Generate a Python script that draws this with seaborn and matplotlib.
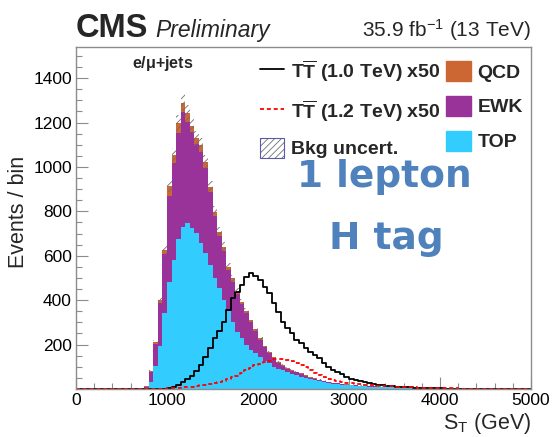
import numpy as np
import pandas as pd
import matplotlib
matplotlib.use("Agg")
import matplotlib.pyplot as plt
import seaborn as sns
from matplotlib.lines import Line2D
from matplotlib.patches import Patch
from matplotlib.ticker import MultipleLocator, FixedLocator

# ---- binning -------------------------------------------------------------
BIN_WIDTH = 50          # GeV
ST_MAX = 5000           # GeV
BKG_FIRST_BIN = 750     # lower edge of first background bin listed below
SIG_FIRST_BIN = 950     # lower edge of first signal bin listed below

# ---- background yields (events / bin), bins from 750 GeV upward ------------
top_events = [
    4, 33, 104, 194, 341, 483, 581, 674, 731, 746,
    723, 701, 656, 611, 560, 500, 455, 400, 350, 300,
    258, 228, 198, 176, 161, 143, 128, 115, 101, 92,
    84, 76, 68, 62, 56, 50, 44, 39, 35, 31,
    27, 24, 22, 20, 18, 16, 14.5, 13, 12, 11,
    10, 9, 8.3, 7.5, 6.8, 6, 5.5, 5, 4.5, 4,
    3.6, 3.2, 2.9, 2.6, 2.3, 2.0, 1.8, 1.6, 1.5, 1.3,
    1.2, 1.1, 1.0, 0.9, 0.8, 0.7, 0.6, 0.6, 0.5, 0.5,
    0.4, 0.4, 0.3, 0.3, 0.3,
]
ewk_events = [
    6, 44, 99, 192, 265, 386, 435, 477, 518, 455,
    436, 403, 413, 383, 326, 278, 235, 221, 186, 184,
    169, 153, 144, 124, 99, 77, 59, 46, 38, 25,
    19, 15, 14, 13, 11, 9, 7, 7, 5, 5,
    4, 3, 3, 2, 2, 2, 1.5, 2, 1.5, 1.5,
    1.5, 1.5, 1.4, 1.2, 0.9, 1.1, 0.9, 0.8, 0.8, 0.9,
    0.9, 0.8, 0.7, 0.6, 0.6, 0.6, 0.5, 0.5, 0.4, 0.4,
    0.3, 0.3, 0.3, 0.3, 0.2, 0.2, 0.2, 0.2, 0.2, 0.1,
    0.1, 0.1, 0.1, 0.1, 0.1,
]
qcd_events = [
    2, 6, 10, 15, 20, 45, 38, 45, 40, 40,
    25, 25, 30, 30, 25, 20, 18, 20, 15, 14,
    13, 12, 11, 10, 10, 8, 8, 7, 6, 6,
    5, 4, 4, 3, 3, 3, 3, 2, 2, 2,
    2, 2, 1, 1, 1, 1, 1, 0.5, 0.5, 0.5,
    0.5, 0.5, 0.3, 0.3, 0.3, 0.2, 0.2, 0.2, 0.2, 0.1,
    0, 0, 0, 0, 0, 0, 0, 0, 0, 0,
    0, 0, 0, 0, 0, 0, 0, 0, 0, 0,
    0, 0, 0, 0, 0,
]
bkg_rel_unc = 0.03

# ---- signal yields (x50), bins from 950 GeV upward -------------------------
tt_1p0_events = [
    1, 3, 10, 20, 30, 45, 60, 80, 110, 146,
    185, 230, 260, 300, 356, 410, 438, 468, 506, 524,
    509, 491, 461, 431, 386, 348, 303, 273, 251, 221,
    206, 183, 168, 153, 138, 116, 98, 86, 78, 66,
    56, 47, 41, 36, 31, 27, 23, 20, 17, 15,
    13, 11, 10, 9, 7.5, 6.5, 5.5, 4.5, 4, 3.5,
    3, 2.5, 2, 1.6, 1.3, 1, 0.8, 0.6, 0.5, 0.4,
    0.3, 0.3, 0.2, 0.2, 0.2, 0.1, 0.1, 0.1, 0.1, 0.1,
    0.1,
]
tt_1p2_events = [
    1, 3, 4, 5, 7, 9, 11, 13, 16, 19,
    24, 28, 32, 37, 44, 52, 60, 71, 84, 95,
    106, 114, 122, 128, 133, 135, 134, 132, 127, 118,
    108, 97, 86, 74, 64, 55, 47, 41, 36, 32,
    29, 26, 24, 22, 20, 18, 17, 15.5, 14.5, 13.5,
    12, 11, 10, 9, 8, 7, 6.5, 6, 5, 4.5,
    4, 3.5, 3, 2.6, 2.3, 2, 1.7, 1.5, 1.3, 1.1,
    1, 0.9, 0.8, 0.7, 0.6, 0.5, 0.5, 0.4, 0.4, 0.3,
    0.3,
]

processes = ["QCD", "EWK", "TOP"]
process_colors = {"QCD": "#CC6633", "EWK": "#993399", "TOP": "#33CCFF"}
x_ticks = [0, 1000, 2000, 3000, 4000, 5000]
y_ticks = [200, 400, 600, 800, 1000, 1200, 1400]

# ---- style ---------------------------------------------------------------
sns.set_theme(style="ticks")
plt.rcParams["font.family"] = ["Liberation Sans", "DejaVu Sans"]
plt.rcParams["mathtext.fontset"] = "custom"
plt.rcParams["mathtext.rm"] = "Liberation Sans"
plt.rcParams["mathtext.it"] = "Liberation Sans:italic"
plt.rcParams["mathtext.bf"] = "Liberation Sans:bold"
plt.rcParams["hatch.linewidth"] = 0.6
plt.rcParams["hatch.color"] = "#6e6e6e"

edges = np.arange(0, ST_MAX + BIN_WIDTH, BIN_WIDTH)
hist_bins = dict(binwidth=BIN_WIDTH, binrange=(0, ST_MAX))


def bin_centers(first_edge, n):
    return first_edge + BIN_WIDTH / 2 + BIN_WIDTH * np.arange(n)


bkg = pd.concat(
    [
        pd.DataFrame({"st": bin_centers(BKG_FIRST_BIN, len(vals)),
                      "events": vals, "process": name})
        for name, vals in (("TOP", top_events), ("EWK", ewk_events), ("QCD", qcd_events))
    ],
    ignore_index=True,
)

fig = plt.figure(figsize=(5.52, 4.37), dpi=100)
ax = fig.add_axes([76 / 552, 1 - 389 / 437, (531 - 76) / 552, (389 - 47) / 437])

# stacked backgrounds
sns.histplot(data=bkg, x="st", weights="events", hue="process", hue_order=processes,
             palette=process_colors, multiple="stack", element="step",
             fill=True, alpha=1, linewidth=0, legend=False, ax=ax, **hist_bins)

# background uncertainty band on the stack total
total = bkg.groupby("st")["events"].sum()
tot_hist, _ = np.histogram(total.index.values, bins=edges, weights=total.values)
lo = tot_hist * (1 - bkg_rel_unc)
hi = tot_hist * (1 + bkg_rel_unc)
ax.fill_between(edges, np.append(lo, lo[-1]), np.append(hi, hi[-1]), step="post",
                facecolor="none", edgecolor="#6e6e6e", hatch="/////", linewidth=0, zorder=3)

# signals
sns.histplot(x=bin_centers(SIG_FIRST_BIN, len(tt_1p0_events)), weights=tt_1p0_events,
             element="step", fill=False, color="black", linewidth=1.3, ax=ax, **hist_bins)
sns.histplot(x=bin_centers(SIG_FIRST_BIN, len(tt_1p2_events)), weights=tt_1p2_events,
             element="step", fill=False, color="#ff0000", linewidth=1.3,
             linestyle=(0, (2.2, 1.6)), ax=ax, **hist_bins)

# axes
ax.set_xlim(0, ST_MAX)
ax.set_ylim(0, 1540)
ax.xaxis.set_major_locator(FixedLocator(x_ticks))
ax.xaxis.set_minor_locator(MultipleLocator(200))
ax.yaxis.set_major_locator(FixedLocator(y_ticks))
ax.yaxis.set_minor_locator(MultipleLocator(50))
ax.tick_params(which="both", direction="in", color="#8c8c8c", labelcolor="black",
               top=False, right=False, labelsize=12.5, width=0.8)
ax.tick_params(which="major", length=8.5, pad=3)
ax.tick_params(which="minor", length=4.3)
for sp in ax.spines.values():
    sp.set_color("#8c8c8c")
    sp.set_linewidth(1.0)
    sp.set_visible(True)

ax.set_xlabel(r"S$_\mathrm{T}$ (GeV)", fontsize=15.5, ha="right")
ax.xaxis.set_label_coords(1.0, -0.064)
ax.set_ylabel("Events / bin", fontsize=15.5)
ax.yaxis.set_label_coords(-0.103, 0.518)

# legend
unc_handle = (
    Patch(facecolor="white", edgecolor="#6e6e6e", hatch="/////", lw=0),
    Patch(facecolor="none", edgecolor="#5a5aa8", lw=0.8),
)
handles = [
    Line2D([], [], color="black", lw=1.3),
    Line2D([], [], color="#ff0000", lw=1.3, ls=(0, (2.2, 1.6))),
    unc_handle,
    Patch(facecolor=process_colors["QCD"], edgecolor=process_colors["QCD"]),
    Patch(facecolor=process_colors["EWK"], edgecolor=process_colors["EWK"]),
    Patch(facecolor=process_colors["TOP"], edgecolor=process_colors["TOP"]),
]
labels = [
    r"T$\mathbf{\overline{T}}$ (1.0 TeV) x50",
    r"T$\mathbf{\overline{T}}$ (1.2 TeV) x50",
    "Bkg uncert.",
    "QCD", "EWK", "TOP",
]
ax.legend(handles, labels, ncol=2, loc="upper left", bbox_to_anchor=(0.404, 0.968),
          frameon=False, borderaxespad=0, borderpad=0, handlelength=1.25,
          handleheight=1.2, handletextpad=0.35, labelspacing=0.73, columnspacing=0.3,
          prop={"weight": "bold", "size": 14})

# annotations
ax.text(0.123, 0.953, r"e/$\mathbf{\mu}$+jets", transform=ax.transAxes, fontsize=11.5,
        fontweight="bold", va="center", ha="left")
ax.text(0.677, 0.591, "1 lepton", transform=ax.transAxes, fontsize=27, fontweight="bold",
        color="#4F81BD", ha="center", va="baseline", family=["DejaVu Sans"])
ax.text(0.681, 0.409, "H tag", transform=ax.transAxes, fontsize=27, fontweight="bold",
        color="#4F81BD", ha="center", va="baseline", family=["DejaVu Sans"])

fig.text(76 / 552, 1 - 37 / 437, "CMS", fontsize=23.5, fontweight="bold", ha="left", va="baseline")
fig.text(155 / 552, 1 - 37 / 437, "Preliminary", fontsize=16.5, style="italic",
         ha="left", va="baseline")
fig.text(531 / 552, 1 - 37 / 437, r"35.9 fb$^{-1}$ (13 TeV)", fontsize=15,
         ha="right", va="baseline")

fig.savefig("out.png", dpi=100)
